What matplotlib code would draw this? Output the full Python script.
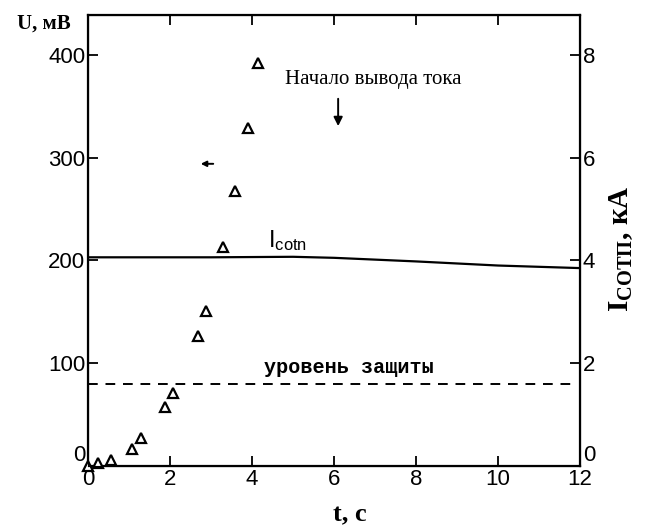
import numpy as np
import matplotlib
matplotlib.use('Agg')
import matplotlib.pyplot as plt

# Данные
t_u = [0.0, 0.24, 0.56, 1.07, 1.29, 1.88, 2.07, 2.68, 2.88, 3.29, 3.59, 3.90, 4.15]
u_mv = [0, 3, 6, 16, 27, 57, 71, 126, 151, 213, 268, 329, 392]

t_i = [0, 3, 5, 6, 8, 10, 12]
i_ka = [4.06, 4.06, 4.07, 4.05, 3.98, 3.90, 3.85]

uroven = 80  # уровень защиты, мВ
t_vyvod = 6.1  # начало вывода тока

fig = plt.figure(figsize=(6.48, 5.30), dpi=100)
ax = fig.add_axes([0.136, 0.121, 0.759, 0.851])
ax2 = ax.twinx()

ax.plot(t_u, u_mv, linestyle='none', marker='^', markersize=7.5, markerfacecolor='white',
        markeredgecolor='black', markeredgewidth=1.6, clip_on=False, zorder=5)
ax.plot([0, 11.85], [uroven, uroven], color='black', linestyle=(0, (5, 4)), linewidth=1.4)
ax2.plot(t_i, i_ka, color='black', linewidth=1.6)

ax.set_xlim(0, 12)
ax.set_ylim(0, 439)
ax2.set_ylim(0, 439 / 50)

ax.set_xticks(range(0, 13, 2))
ax.set_yticks([0, 100, 200, 300, 400])
ax2.set_yticks([0, 2, 4, 6, 8])

tick_font = 'Liberation Sans'
ax.tick_params(direction='in', length=7, width=1.3, labelsize=16, top=True, pad=2)
ax2.tick_params(direction='in', length=7, width=1.3, labelsize=16, pad=2)
for lab in ax.get_xticklabels() + ax.get_yticklabels() + ax2.get_yticklabels():
    lab.set_fontfamily(tick_font)
# нулевые подписи по Y чуть выше, чтобы не наезжали на подписи оси t
ax.get_yticklabels()[0].set_verticalalignment('bottom')
ax2.get_yticklabels()[0].set_verticalalignment('bottom')

for sp in ax.spines.values():
    sp.set_linewidth(1.6)

serif = 'Liberation Serif'
fig.text(0.027, 0.955, 'U, мВ', fontfamily=serif, fontweight='bold', fontsize=15,
         ha='left', va='center')
fig.text(0.54, 0.028, 't, c', fontfamily=serif, fontweight='bold', fontsize=19,
         ha='center', va='center')
fig.text(0.958, 0.53, r'I$_{\mathregular{СОТП}}$, кА', fontfamily=serif, fontweight='bold',
         fontsize=21, rotation=90, ha='center', va='center')

ax.text(4.8, 376, 'Начало вывода тока', fontfamily=serif, fontsize=15, ha='left', va='center')
ax.annotate('', xy=(t_vyvod, 328), xytext=(t_vyvod, 360),
            arrowprops=dict(arrowstyle='-|>', color='black', lw=1.4, mutation_scale=13))
ax.annotate('', xy=(2.68, 294), xytext=(3.12, 294),
            arrowprops=dict(arrowstyle='-|>', color='black', lw=1.4, mutation_scale=8))
ax.text(4.4, 219, r'$\mathregular{I_{cotn}}$', fontfamily=tick_font, fontsize=17,
        ha='left', va='center')
ax.text(4.3, 96, 'уровень защиты', fontfamily='Liberation Mono', fontweight='bold',
        fontsize=14.5, ha='left', va='center')

fig.savefig('out.png', dpi=100)
